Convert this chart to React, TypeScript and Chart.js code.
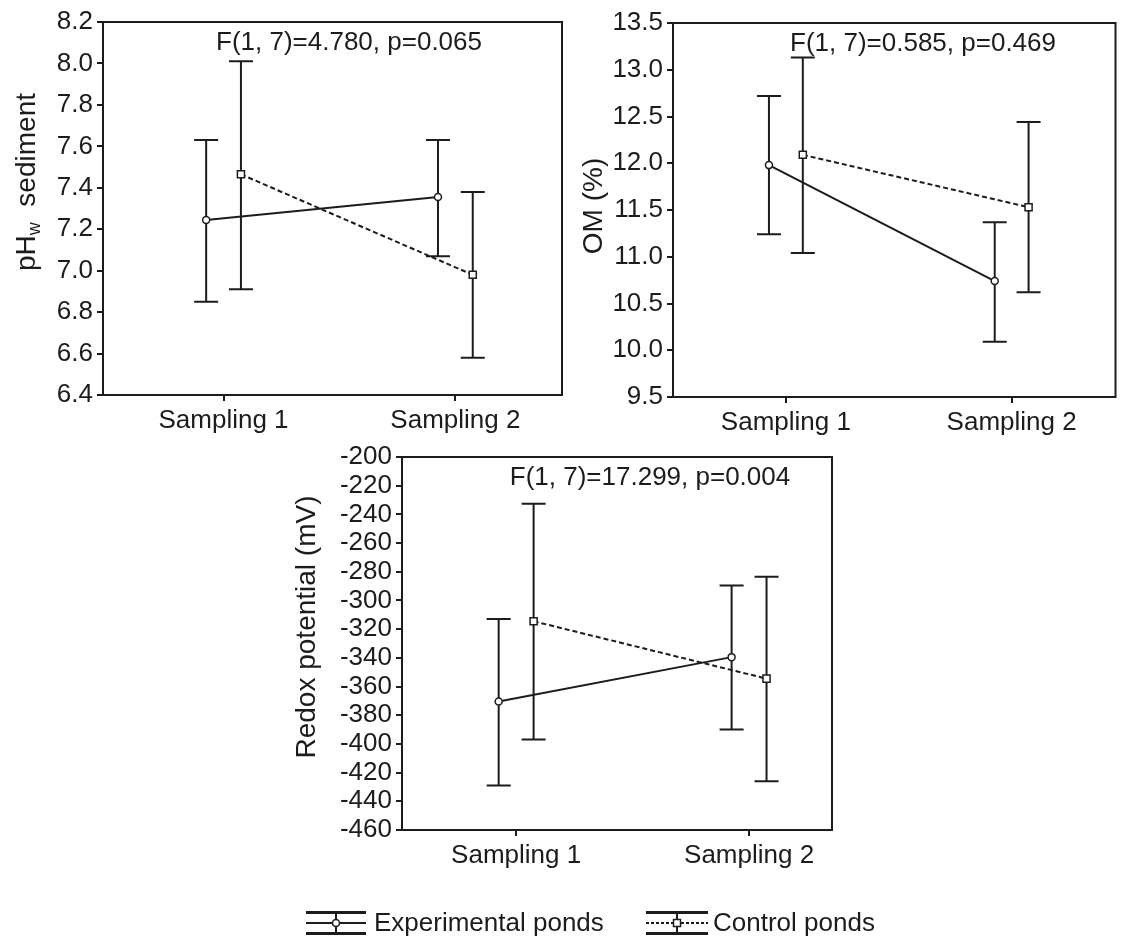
import React, { useEffect, useRef } from 'react';
import { Chart, registerables } from 'chart.js';

Chart.register(...registerables);

// ---------------- data ----------------
const CATEGORIES = ['Sampling 1', 'Sampling 2'];
const SERIES = ['Experimental ponds', 'Control ponds'];

const PH_TICKS = [6.4, 6.6, 6.8, 7.0, 7.2, 7.4, 7.6, 7.8, 8.0, 8.2];
const PH_EXP_MEAN = [7.245, 7.355];
const PH_EXP_LOW = [6.85, 7.07];
const PH_EXP_HIGH = [7.63, 7.63];
const PH_CTRL_MEAN = [7.465, 6.98];
const PH_CTRL_LOW = [6.91, 6.58];
const PH_CTRL_HIGH = [8.01, 7.38];
const PH_STAT = 'F(1, 7)=4.780, p=0.065';
const PH_TITLE = [
  { text: 'pH', sub: false },
  { text: 'w', sub: true },
  { text: '  sediment', sub: false },
];

const OM_TICKS = [9.5, 10.0, 10.5, 11.0, 11.5, 12.0, 12.5, 13.0, 13.5];
const OM_EXP_MEAN = [11.98, 10.74];
const OM_EXP_LOW = [11.24, 10.09];
const OM_EXP_HIGH = [12.72, 11.37];
const OM_CTRL_MEAN = [12.09, 11.53];
const OM_CTRL_LOW = [11.04, 10.62];
const OM_CTRL_HIGH = [13.13, 12.44];
const OM_STAT = 'F(1, 7)=0.585, p=0.469';
const OM_TITLE = [{ text: 'OM (%)', sub: false }];

const RX_TICKS = [-460, -440, -420, -400, -380, -360, -340, -320, -300, -280, -260, -240, -220, -200];
const RX_EXP_MEAN = [-370.5, -339.5];
const RX_EXP_LOW = [-429, -390];
const RX_EXP_HIGH = [-313, -289.5];
const RX_CTRL_MEAN = [-314.5, -354.5];
const RX_CTRL_LOW = [-397, -426];
const RX_CTRL_HIGH = [-232.5, -283.5];
const RX_STAT = 'F(1, 7)=17.299, p=0.004';
const RX_TITLE = [{ text: 'Redox potential (mV)', sub: false }];

// ---------------- style ----------------
const INK = '#1c1c1c';
const FAMILY = '"Liberation Sans", Arial, Helvetica, sans-serif';
const TICK_SIZE = 26;
const STAT_SIZE = 26;
const TITLE_SIZE = 28;
const LEGEND_SIZE = 26;
const DODGE = 0.075;
const CAP_HALF = 12;

type Part = { text: string; sub: boolean };

type PanelCfg = {
  box: { left: number; top: number; width: number; height: number };
  padding: { left: number; top: number; right: number; bottom: number };
  yAxisWidth: number;
  xAxisHeight: number;
  xRange: [number, number];
  yTicks: number[];
  decimals: number;
  expMean: number[];
  expLow: number[];
  expHigh: number[];
  ctrlMean: number[];
  ctrlLow: number[];
  ctrlHigh: number[];
  stat: string;
  statDx: number;
  title: Part[];
  titlePos: [number, number];
  legend: null | { y: number; items: { x0: number; x1: number; textX: number }[] };
};

function drawRotatedTitle(ctx: CanvasRenderingContext2D, parts: Part[], cx: number, cy: number) {
  const big = `${TITLE_SIZE}px ${FAMILY}`;
  const small = `${Math.round(TITLE_SIZE * 0.66)}px ${FAMILY}`;
  let total = 0;
  const widths = parts.map((p) => {
    ctx.font = p.sub ? small : big;
    const w = ctx.measureText(p.text).width;
    total += w;
    return w;
  });
  ctx.save();
  ctx.translate(cx, cy);
  ctx.rotate(-Math.PI / 2);
  ctx.fillStyle = INK;
  ctx.textBaseline = 'middle';
  ctx.textAlign = 'left';
  let x = -total / 2;
  parts.forEach((p, i) => {
    ctx.font = p.sub ? small : big;
    ctx.fillText(p.text, x, p.sub ? 8 : 0);
    x += widths[i];
  });
  ctx.restore();
}

function drawLegendSymbol(ctx: CanvasRenderingContext2D, x0: number, x1: number, y: number, kind: number) {
  const cx = (x0 + x1) / 2;
  ctx.save();
  ctx.strokeStyle = INK;
  ctx.lineWidth = 3;
  ctx.beginPath();
  ctx.moveTo(x0, y - 10.5);
  ctx.lineTo(x1, y - 10.5);
  ctx.moveTo(x0, y + 10.5);
  ctx.lineTo(x1, y + 10.5);
  ctx.stroke();
  ctx.lineWidth = 2;
  ctx.beginPath();
  ctx.moveTo(cx, y - 10.5);
  ctx.lineTo(cx, y + 10.5);
  ctx.stroke();
  ctx.beginPath();
  if (kind === 1) ctx.setLineDash([3, 2]);
  ctx.moveTo(x0, y);
  ctx.lineTo(x1, y);
  ctx.stroke();
  ctx.setLineDash([]);
  ctx.fillStyle = '#fff';
  ctx.lineWidth = 1.5;
  ctx.beginPath();
  if (kind === 0) {
    ctx.arc(cx, y, 3.5, 0, Math.PI * 2);
  } else {
    ctx.rect(cx - 3.5, y - 3.5, 7, 7);
  }
  ctx.fill();
  ctx.stroke();
  ctx.restore();
}

function makeDecor(cfg: PanelCfg) {
  return {
    id: 'panelDecor',
    beforeDatasetsDraw(chart: any) {
      const ctx = chart.ctx as CanvasRenderingContext2D;
      const ys = chart.scales.y;
      ctx.save();
      ctx.strokeStyle = INK;
      ctx.lineWidth = 2;
      chart.data.datasets.forEach((ds: any, i: number) => {
        const meta = chart.getDatasetMeta(i);
        meta.data.forEach((pt: any, j: number) => {
          const x = pt.x;
          const yl = ys.getPixelForValue(ds.errLow[j]);
          const yh = ys.getPixelForValue(ds.errHigh[j]);
          ctx.beginPath();
          ctx.moveTo(x, yl);
          ctx.lineTo(x, yh);
          ctx.moveTo(x - CAP_HALF, yl);
          ctx.lineTo(x + CAP_HALF, yl);
          ctx.moveTo(x - CAP_HALF, yh);
          ctx.lineTo(x + CAP_HALF, yh);
          ctx.stroke();
        });
      });
      ctx.restore();
    },
    afterDraw(chart: any) {
      const ctx = chart.ctx as CanvasRenderingContext2D;
      const a = chart.chartArea;
      ctx.save();
      ctx.strokeStyle = INK;
      ctx.lineWidth = 2;
      ctx.strokeRect(a.left, a.top, a.right - a.left, a.bottom - a.top);
      ctx.fillStyle = INK;
      ctx.font = `${STAT_SIZE}px ${FAMILY}`;
      ctx.textAlign = 'center';
      ctx.textBaseline = 'middle';
      ctx.fillText(cfg.stat, a.left + cfg.statDx, a.top + 21);
      ctx.restore();
      drawRotatedTitle(ctx, cfg.title, cfg.titlePos[0], cfg.titlePos[1]);
      if (cfg.legend) {
        const lg = cfg.legend;
        lg.items.forEach((it, k) => {
          drawLegendSymbol(ctx, it.x0, it.x1, lg.y, k);
          ctx.save();
          ctx.fillStyle = INK;
          ctx.font = `${LEGEND_SIZE}px ${FAMILY}`;
          ctx.textAlign = 'left';
          ctx.textBaseline = 'middle';
          ctx.fillText(SERIES[k], it.textX, lg.y + 1);
          ctx.restore();
        });
      }
    },
  };
}

function buildConfig(cfg: PanelCfg): any {
  const xs = CATEGORIES.map((_, i) => i + 1);
  const common = {
    borderColor: INK,
    borderWidth: 2,
    pointBackgroundColor: '#ffffff',
    pointBorderColor: INK,
    pointBorderWidth: 1.5,
    fill: false,
    tension: 0,
  };
  const datasets = [
    {
      ...common,
      label: SERIES[0],
      data: xs.map((x, i) => ({ x: x - DODGE, y: cfg.expMean[i] })),
      errLow: cfg.expLow,
      errHigh: cfg.expHigh,
      pointStyle: 'circle',
      pointRadius: 3.5,
    },
    {
      ...common,
      label: SERIES[1],
      data: xs.map((x, i) => ({ x: x + DODGE, y: cfg.ctrlMean[i] })),
      errLow: cfg.ctrlLow,
      errHigh: cfg.ctrlHigh,
      borderDash: [5, 3],
      pointStyle: 'rect',
      pointRadius: 5,
    },
  ];
  const tickFont = { family: FAMILY, size: TICK_SIZE, lineHeight: 1.0 };
  return {
    type: 'line',
    data: { datasets },
    options: {
      animation: false,
      responsive: true,
      maintainAspectRatio: false,
      layout: { padding: cfg.padding },
      plugins: { legend: { display: false }, tooltip: { enabled: false }, title: { display: false } },
      scales: {
        x: {
          type: 'linear',
          min: cfg.xRange[0],
          max: cfg.xRange[1],
          afterBuildTicks: (s: any) => {
            s.ticks = xs.map((v) => ({ value: v }));
          },
          afterFit: (s: any) => {
            s.height = cfg.xAxisHeight;
          },
          grid: { drawOnChartArea: false, drawTicks: true, tickLength: 6, color: INK, lineWidth: 2 },
          border: { display: false },
          ticks: {
            callback: (v: number) => CATEGORIES[Math.round(v) - 1] ?? '',
            font: tickFont,
            color: INK,
            padding: 7,
            maxRotation: 0,
            autoSkip: false,
          },
        },
        y: {
          type: 'linear',
          min: cfg.yTicks[0],
          max: cfg.yTicks[cfg.yTicks.length - 1],
          afterBuildTicks: (s: any) => {
            s.ticks = cfg.yTicks.map((v) => ({ value: v }));
          },
          afterFit: (s: any) => {
            s.width = cfg.yAxisWidth;
          },
          grid: { drawOnChartArea: false, drawTicks: true, tickLength: 6, color: INK, lineWidth: 2 },
          border: { display: false },
          ticks: {
            callback: (v: number) => Number(v).toFixed(cfg.decimals),
            font: tickFont,
            color: INK,
            padding: 4,
            autoSkip: false,
          },
        },
      },
    },
    plugins: [makeDecor(cfg)],
  };
}

const PANELS: PanelCfg[] = [
  {
    box: { left: 0, top: 0, width: 575, height: 450 },
    padding: { left: 0, top: 22, right: 13, bottom: 0 },
    yAxisWidth: 103,
    xAxisHeight: 55,
    xRange: [0.48, 2.46],
    yTicks: PH_TICKS,
    decimals: 1,
    expMean: PH_EXP_MEAN,
    expLow: PH_EXP_LOW,
    expHigh: PH_EXP_HIGH,
    ctrlMean: PH_CTRL_MEAN,
    ctrlLow: PH_CTRL_LOW,
    ctrlHigh: PH_CTRL_HIGH,
    stat: PH_STAT,
    statDx: 246,
    title: PH_TITLE,
    titlePos: [27, 182],
    legend: null,
  },
  {
    box: { left: 560, top: 0, width: 562, height: 450 },
    padding: { left: 0, top: 23, right: 2, bottom: 0 },
    yAxisWidth: 113,
    xAxisHeight: 53,
    xRange: [0.5, 2.46],
    yTicks: OM_TICKS,
    decimals: 1,
    expMean: OM_EXP_MEAN,
    expLow: OM_EXP_LOW,
    expHigh: OM_EXP_HIGH,
    ctrlMean: OM_CTRL_MEAN,
    ctrlLow: OM_CTRL_LOW,
    ctrlHigh: OM_CTRL_HIGH,
    stat: OM_STAT,
    statDx: 250,
    title: OM_TITLE,
    titlePos: [34, 206],
    legend: null,
  },
  {
    box: { left: 270, top: 440, width: 640, height: 499 },
    padding: { left: 0, top: 14, right: 78, bottom: 59 },
    yAxisWidth: 132,
    xAxisHeight: 50,
    xRange: [0.51, 2.356],
    yTicks: RX_TICKS,
    decimals: 0,
    expMean: RX_EXP_MEAN,
    expLow: RX_EXP_LOW,
    expHigh: RX_EXP_HIGH,
    ctrlMean: RX_CTRL_MEAN,
    ctrlLow: RX_CTRL_LOW,
    ctrlHigh: RX_CTRL_HIGH,
    stat: RX_STAT,
    statDx: 248,
    title: RX_TITLE,
    titlePos: [37, 187],
    legend: {
      y: 483,
      items: [
        { x0: 36, x1: 96, textX: 104 },
        { x0: 376, x1: 438, textX: 443 },
      ],
    },
  },
];

function Panel({ cfg }: { cfg: PanelCfg }) {
  const ref = useRef<HTMLCanvasElement | null>(null);
  useEffect(() => {
    if (!ref.current) return;
    const chart = new Chart(ref.current, buildConfig(cfg));
    return () => chart.destroy();
  }, [cfg]);
  return (
    <div
      style={{
        position: 'absolute',
        left: cfg.box.left,
        top: cfg.box.top,
        width: cfg.box.width,
        height: cfg.box.height,
      }}
    >
      <canvas ref={ref} />
    </div>
  );
}

export default function App() {
  return (
    <div style={{ position: 'absolute', left: 0, top: 0, width: 1122, height: 939, background: '#fff' }}>
      {PANELS.map((p, i) => (
        <Panel key={i} cfg={p} />
      ))}
    </div>
  );
}
